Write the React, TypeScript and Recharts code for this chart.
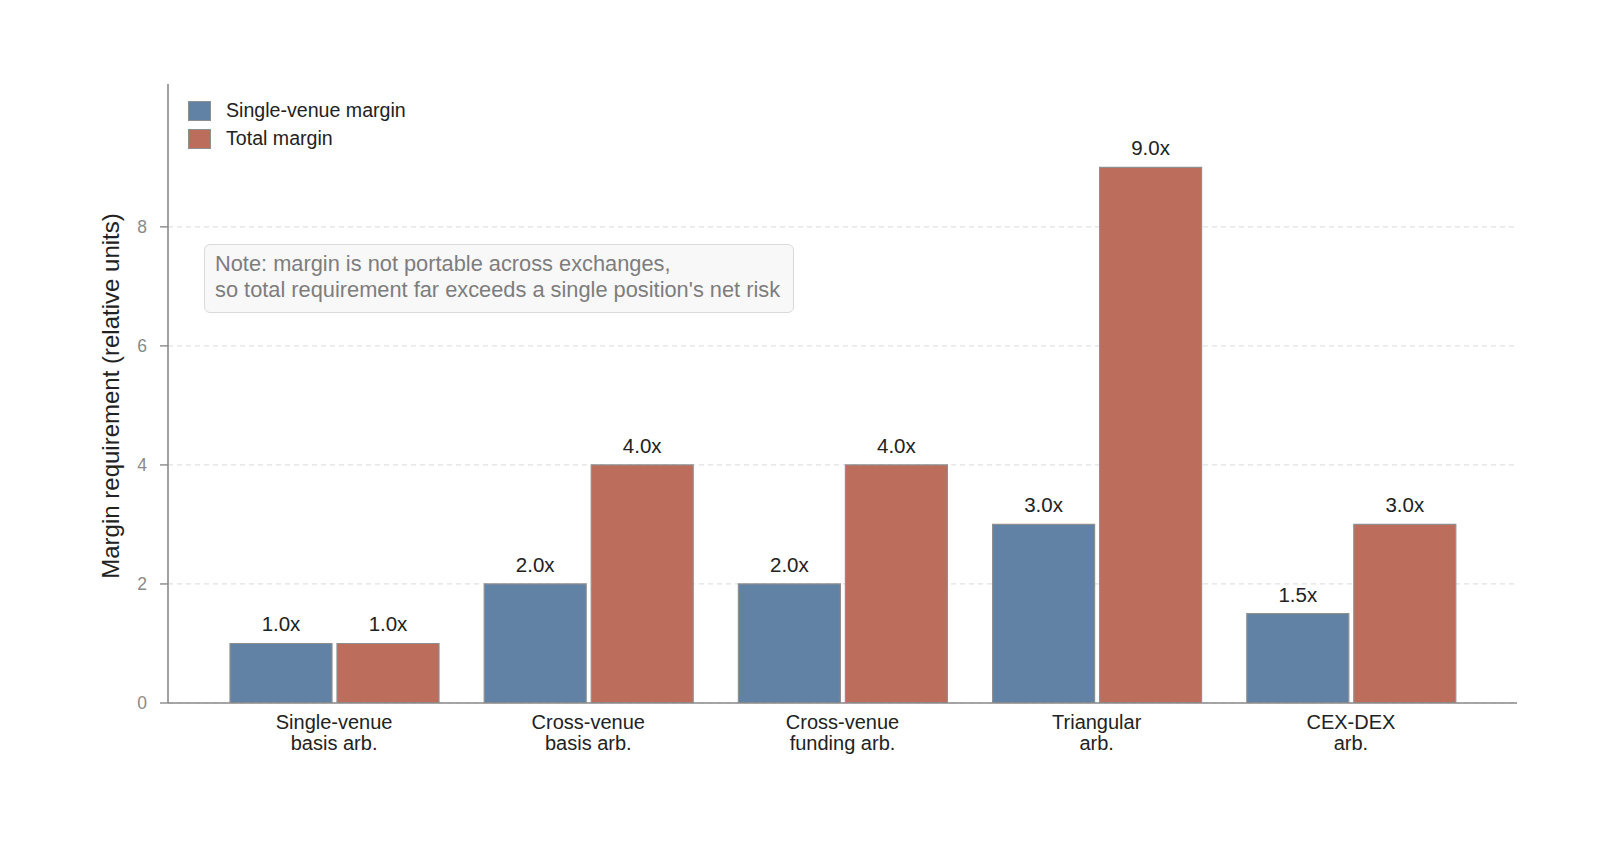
import React from "react";
import { BarChart, Bar, XAxis, YAxis, CartesianGrid, LabelList } from "recharts";

const categories = [
  "Single-venue\nbasis arb.",
  "Cross-venue\nbasis arb.",
  "Cross-venue\nfunding arb.",
  "Triangular\narb.",
  "CEX-DEX\narb.",
];
const singleVenue = [1.0, 2.0, 2.0, 3.0, 1.5];
const totalMargin = [1.0, 4.0, 4.0, 9.0, 3.0];
const yTicks = [0, 2, 4, 6, 8];

const seriesNames = { single: "Single-venue margin", total: "Total margin" };
const BLUE = "#6182a5";
const RED = "#bc6d5c";
const EDGE = "#8f8f8f";
const AXIS = "#8a8a8a";
const FONT = "'Liberation Sans', Arial, Helvetica, sans-serif";

const data = categories.map((c, i) => ({
  name: c,
  single: singleVenue[i],
  total: totalMargin[i],
}));

const XTick = (props: any) => {
  const { x, y, payload } = props;
  const lines = String(payload.value).split("\n");
  return (
    <text x={x} y={y} textAnchor="middle" fill="#222" fontSize={20} fontFamily={FONT}>
      {lines.map((l, i) => (
        <tspan key={i} x={x} y={y + 25.6 + i * 21.8}>
          {l}
        </tspan>
      ))}
    </text>
  );
};

const LegendBox = () => {
  const items = [
    { label: seriesNames.single, color: BLUE },
    { label: seriesNames.total, color: RED },
  ];
  return (
    <div
      style={{
        position: "absolute",
        left: 188,
        top: 96.5,
        fontFamily: FONT,
        fontSize: 19.6,
        color: "#222",
      }}
    >
      {items.map((it, i) => (
        <div key={i} style={{ display: "flex", alignItems: "center", height: 28 }}>
          <div
            style={{
              width: 21,
              height: 18,
              background: it.color,
              border: `1px solid ${EDGE}`,
              marginRight: 15,
            }}
          />
          <span>{it.label}</span>
        </div>
      ))}
    </div>
  );
};

const YLabel = () => (
  <text
    transform="translate(119, 396) rotate(-90)"
    textAnchor="middle"
    fill="#222"
    fontSize={24}
    fontFamily={FONT}
  >
    Margin requirement (relative units)
  </text>
);

export default function App() {
  return (
    <div style={{ position: "absolute", left: 0, top: 0, width: 1600, height: 842, background: "#fff" }}>
      <BarChart
        width={1600}
        height={842}
        data={data}
        margin={{ top: 84, right: 83, left: 0, bottom: 79 }}
        barSize={102}
        barGap={5}
      >
        <CartesianGrid
          vertical={false}
          syncWithTicks
          stroke="#e2e2e2"
          strokeDasharray="5 4"
          strokeWidth={1.2}
        />
        <XAxis
          dataKey="name"
          interval={0}
          height={60}
          padding={{ left: 39, right: 39 }}
          tickLine={false}
          tickSize={0}
          tickMargin={0}
          tick={<XTick />}
          axisLine={{ stroke: AXIS, strokeWidth: 1.6 }}
        />
        <YAxis
          width={168}
          domain={[0, 10.4]}
          ticks={yTicks}
          interval={0}
          allowDataOverflow
          tickSize={8}
          tickMargin={13}
          tickLine={{ stroke: AXIS, strokeWidth: 1.4 }}
          axisLine={{ stroke: AXIS, strokeWidth: 1.6 }}
          tick={{ fill: "#8a8a8a", fontSize: 17.5, fontFamily: FONT }}
          label={<YLabel />}
        />
        <Bar
          dataKey="single"
          name={seriesNames.single}
          fill={BLUE}
          stroke={EDGE}
          strokeWidth={1.2}
          isAnimationActive={false}
        >
          <LabelList
            dataKey="single"
            position="top"
            offset={12}
            formatter={(v: any) => `${Number(v).toFixed(1)}x`}
            style={{ fill: "#222", fontSize: 20.5, fontFamily: FONT }}
          />
        </Bar>
        <Bar
          dataKey="total"
          name={seriesNames.total}
          fill={RED}
          stroke={EDGE}
          strokeWidth={1.2}
          isAnimationActive={false}
        >
          <LabelList
            dataKey="total"
            position="top"
            offset={12}
            formatter={(v: any) => `${Number(v).toFixed(1)}x`}
            style={{ fill: "#222", fontSize: 20.5, fontFamily: FONT }}
          />
        </Bar>
      </BarChart>
      <LegendBox />
      <div
        style={{
          position: "absolute",
          left: 204,
          top: 244,
          width: 590,
          height: 69,
          boxSizing: "border-box",
          border: "1.2px solid #dadada",
          borderRadius: 6,
          background: "rgba(247,247,249,0.92)",
          padding: "6px 0 0 10px",
          fontFamily: FONT,
          fontSize: 21.8,
          lineHeight: "26.3px",
          color: "#7d7d7d",
          whiteSpace: "pre",
        }}
      >
        {"Note: margin is not portable across exchanges,\nso total requirement far exceeds a single position's net risk"}
      </div>
    </div>
  );
}
